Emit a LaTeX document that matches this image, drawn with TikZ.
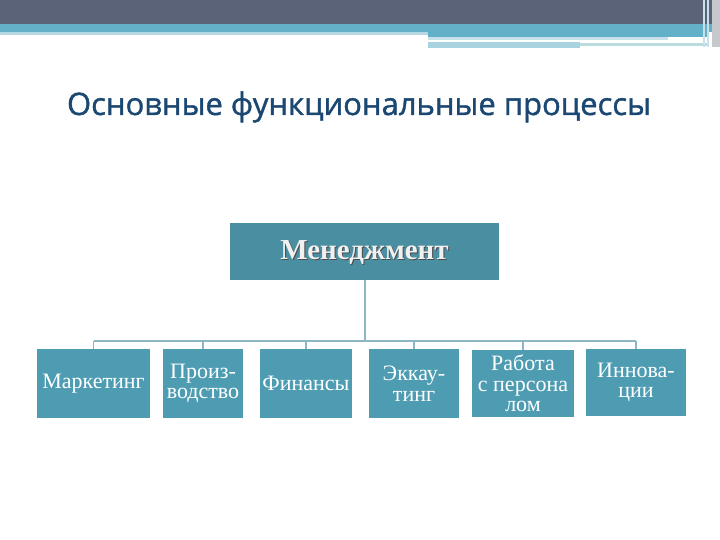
\documentclass[tikz,border=0pt]{standalone}
\usepackage{fontspec}
\setmainfont{Liberation Serif}
\newfontfamily\titlefont[FakeBold=1.3]{Open Sans}
\definecolor{topdark}{HTML}{5B6378}
\definecolor{topteal}{HTML}{62B1C8}
\definecolor{palea}{HTML}{B5D8E2}
\definecolor{paleb}{HTML}{C8E0EA}
\definecolor{palec}{HTML}{A9D3E0}
\definecolor{paled}{HTML}{BBDCDF}
\definecolor{edgegray}{HTML}{C6C8CC}
\definecolor{mgrfill}{HTML}{4A8EA1}
\definecolor{boxfill}{HTML}{4E9CB2}
\definecolor{connc}{HTML}{8DB6C4}
\definecolor{titlec}{HTML}{1B4872}
\begin{document}
\begin{tikzpicture}[x=1pt,y=-1pt,
  unitbox/.style={fill=boxfill, draw=none, text=white, align=center, inner sep=0pt,
    font=\fontsize{22}{20.5}\selectfont},
  conn/.style={draw=connc, line width=2pt}]
\useasboundingbox (0,0) rectangle (720,540);
\fill[white] (0,0) rectangle (720,540);
% top decoration
\fill[topdark] (0,0) rectangle (720,24);
\fill[topteal] (0,24) rectangle (720,32);
\fill[palea] (0,32) rectangle (428,35);
\fill[topteal] (428,32) rectangle (708,37);
\fill[paleb] (428,37) rectangle (668,40);
\fill[palec] (428,42) rectangle (580,48);
\fill[paled] (580,43) rectangle (708,46);
\fill[edgegray] (712,0) rectangle (720,47);
\fill[paleb] (703,0) rectangle (705,47);
\fill[paleb] (707,0) rectangle (709,47);
% title
\node[text=titlec, font=\titlefont\fontsize{31}{31}\selectfont, anchor=base] (title) at (359,115) {Основные функциональные процессы};
% manager box
\node[fill=mgrfill, minimum width=269pt, minimum height=57pt, inner sep=0pt] (mgr) at (364.5,251.5) {};
\node[text=black!70, font=\fontsize{29}{29}\selectfont\bfseries, anchor=base] at (365.5,260.5) {Менеджмент};
\node[text=white!94!black, font=\fontsize{29}{29}\selectfont\bfseries, anchor=base] (mgrtext) at (364.5,259.5) {Менеджмент};
% unit boxes
\node[unitbox, minimum width=113pt, minimum height=69pt] (b1) at (93.5,383.5) {Маркетинг};
\node[unitbox, minimum width=80pt, minimum height=69pt] (b2) at (203,383.5) {Произ-\\водство};
\node[unitbox, minimum width=92pt, minimum height=69pt] (b3) at (306,383.5) {Финансы};
\node[unitbox, minimum width=90pt, minimum height=69pt] (b4) at (414,383.5) {Эккау-\\тинг};
\node[unitbox, minimum width=102pt, minimum height=67pt] (b5) at (523,383.5) {Работа\\с персона\\лом};
\node[unitbox, minimum width=100pt, minimum height=67pt] (b6) at (636,382.5) {Иннова-\\ции};
% connectors
\coordinate (j) at (364.5,341);
\draw[conn] (mgr.south) -- (j);
\draw[conn] (b1.north |- j) -- (b6.north |- j);
\foreach \b in {b1,b2,b3,b4,b5,b6}{
  \draw[conn, line width=1.5pt] (\b.north |- j) -- (\b.north);
}
\end{tikzpicture}
\end{document}
